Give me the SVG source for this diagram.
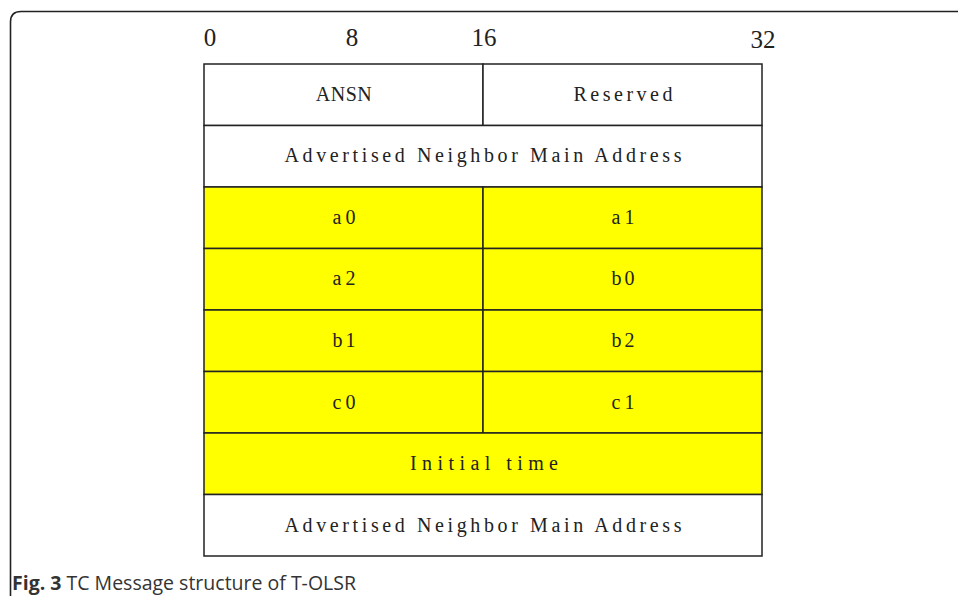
<svg xmlns="http://www.w3.org/2000/svg" width="958" height="596" viewBox="0 0 958 596">
<style>
.frame{fill:none;stroke:#222;stroke-width:1.6}
.cell{stroke:#222;stroke-width:1.5}
.w{fill:#fff}
.y{fill:#ffff00}
.t{font-family:"Liberation Serif",serif;font-size:20px;fill:#222;text-anchor:middle}
.n{font-family:"Liberation Serif",serif;font-size:25px;fill:#222;text-anchor:middle}
.cap{font-family:"Open Sans","Noto Sans",sans-serif;font-size:19.5px;fill:#333}
</style>
<rect width="958" height="596" fill="#fff"/>
<path class="frame" d="M10.5,605 V22 Q10.5,11.5 21,11.5 H970"/>
<g id="scale">
<text class="n" x="210" y="46">0</text>
<text class="n" x="352" y="46">8</text>
<text class="n" x="484" y="46">16</text>
<text class="n" x="763" y="48">32</text>
</g>
<g id="ansn"><rect class="cell w" x="204" y="64" width="279" height="61.5"/><text class="t" x="344" y="101" letter-spacing="0.5">ANSN</text></g>
<g id="reserved"><rect class="cell w" x="483" y="64" width="279" height="61.5"/><text class="t" x="623" y="101" textLength="99" lengthAdjust="spacing">Reserved</text></g>
<g id="addr1"><rect class="cell w" x="204" y="125.5" width="558" height="61.5"/><text class="t" x="483" y="162" textLength="397" lengthAdjust="spacing">Advertised Neighbor Main Address</text></g>
<g id="a0"><rect class="cell y" x="204" y="187" width="279" height="61.5"/><text class="t" x="344" y="224" textLength="23" lengthAdjust="spacing">a0</text></g>
<g id="a1"><rect class="cell y" x="483" y="187" width="279" height="61.5"/><text class="t" x="623" y="224" textLength="23" lengthAdjust="spacing">a1</text></g>
<g id="a2"><rect class="cell y" x="204" y="248.5" width="279" height="61.5"/><text class="t" x="344" y="285" textLength="23" lengthAdjust="spacing">a2</text></g>
<g id="b0"><rect class="cell y" x="483" y="248.5" width="279" height="61.5"/><text class="t" x="623" y="285" textLength="23" lengthAdjust="spacing">b0</text></g>
<g id="b1"><rect class="cell y" x="204" y="310" width="279" height="61.5"/><text class="t" x="344" y="347" textLength="23" lengthAdjust="spacing">b1</text></g>
<g id="b2"><rect class="cell y" x="483" y="310" width="279" height="61.5"/><text class="t" x="623" y="347" textLength="23" lengthAdjust="spacing">b2</text></g>
<g id="c0"><rect class="cell y" x="204" y="371.5" width="279" height="61.5"/><text class="t" x="344" y="409" textLength="23" lengthAdjust="spacing">c0</text></g>
<g id="c1"><rect class="cell y" x="483" y="371.5" width="279" height="61.5"/><text class="t" x="623" y="409" textLength="23" lengthAdjust="spacing">c1</text></g>
<g id="init"><rect class="cell y" x="204" y="433" width="558" height="61.5"/><text class="t" x="484" y="470" textLength="148" lengthAdjust="spacing">Initial time</text></g>
<g id="addr2"><rect class="cell w" x="204" y="494.5" width="558" height="61.5"/><text class="t" x="483" y="532" textLength="397" lengthAdjust="spacing">Advertised Neighbor Main Address</text></g>
<g id="connectors"></g>
<text class="cap" x="12" y="590"><tspan font-weight="bold">Fig. 3</tspan> TC Message structure of T-OLSR</text>
</svg>
